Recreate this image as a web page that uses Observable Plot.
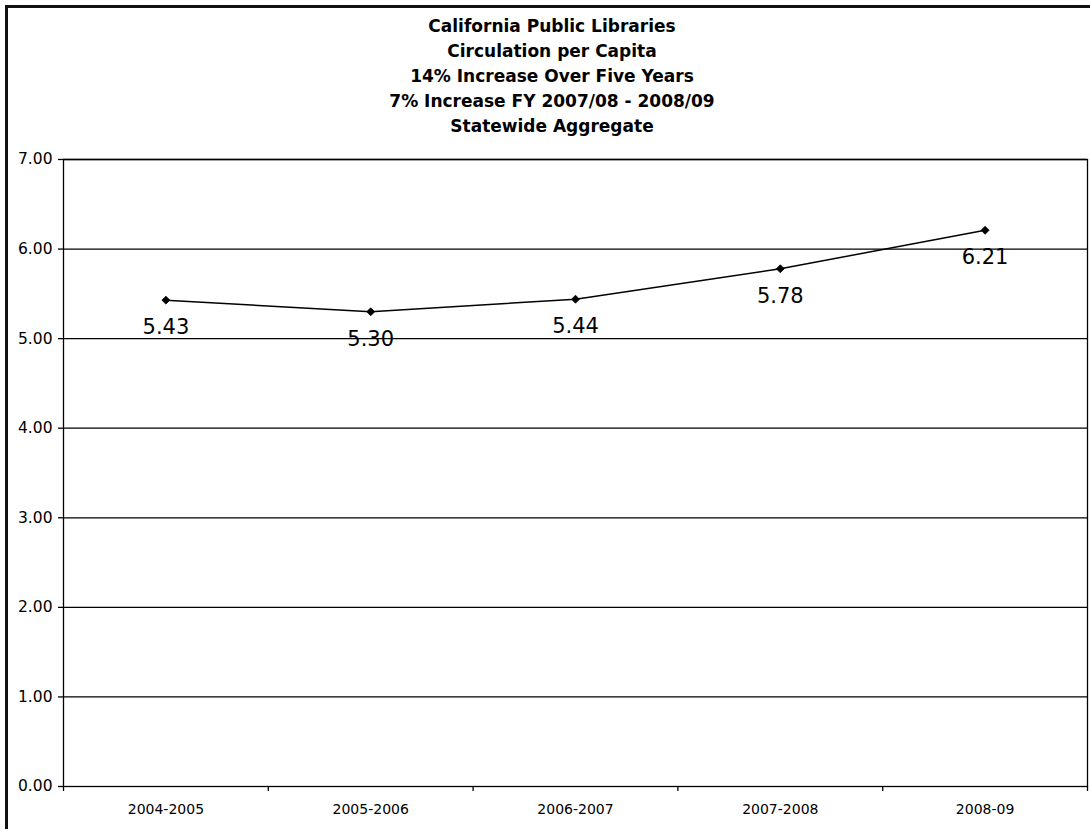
<!DOCTYPE html>
<html>
<head>
<meta charset="utf-8">
<script src="https://cdn.jsdelivr.net/npm/d3@7"></script>
<script src="https://cdn.jsdelivr.net/npm/@observablehq/plot@0.6"></script>
<style>
  html, body { margin: 0; padding: 0; background: #fff; }
  #wrap { position: relative; width: 1090px; height: 829px; overflow: hidden; background: #fff; }
  #border { position: absolute; left: 5px; top: 5px; width: 1200px; height: 1000px;
            border-left: 3px solid #111; border-top: 3px solid #111; box-sizing: border-box; }
  #title { position: relative; width: 1090px; height: 140px; box-sizing: border-box;
           padding-top: 14px; padding-left: 14px; text-align: center;
           font-family: "DejaVu Sans", sans-serif; font-weight: bold; font-size: 17px;
           line-height: 25px; color: #000; }
  #chart { position: relative; }
</style>
</head>
<body>
<div id="wrap">
  <div id="border"></div>
  <div id="title"></div>
  <div id="chart"></div>
</div>
<script>
const titleLines = [
  "California Public Libraries",
  "Circulation per Capita",
  "14% Increase Over Five Years",
  "7% Increase FY 2007/08 - 2008/09",
  "Statewide Aggregate"
];
const categories = ["2004-2005", "2005-2006", "2006-2007", "2007-2008", "2008-09"];
const values = [5.43, 5.30, 5.44, 5.78, 6.21];
const yTicks = [0, 1, 2, 3, 4, 5, 6, 7];

const titleEl = document.getElementById("title");
titleEl.innerHTML = titleLines.map(t => `<div>${t}</div>`).join("");

const data = categories.map((c, i) => ({cat: c, idx: i + 0.5, value: values[i]}));
const boundaries = d3.range(categories.length + 1);
const centers = categories.map((c, i) => i + 0.5);

const chart = Plot.plot({
  width: 1090,
  height: 689,
  marginLeft: 63,
  marginRight: 3,
  marginTop: 19,
  marginBottom: 43,
  style: {fontFamily: "DejaVu Sans, sans-serif", color: "#000", background: "transparent"},
  x: {type: "linear", domain: [0, categories.length]},
  y: {domain: [0, 7]},
  marks: [
    Plot.ruleY(yTicks.filter(d => d > 0), {stroke: "#000", strokeWidth: 1.3}),
    Plot.frame({stroke: "#000", strokeWidth: 1.3}),
    Plot.axisY({ticks: yTicks, tickFormat: d3.format(".2f"), tickSize: 5, tickPadding: 6,
                fontSize: 15.5, label: null, stroke: "#000", strokeWidth: 1.3}),
    Plot.axisX({ticks: boundaries, tickFormat: () => "", tickSize: 5, label: null,
                stroke: "#000", strokeWidth: 1.3}),
    Plot.axisX({ticks: centers, tickFormat: d => categories[Math.floor(d)], tickSize: 0,
                tickPadding: 18, fontSize: 14, label: null}),
    Plot.line(data, {x: "idx", y: "value", stroke: "#000", strokeWidth: 1.5}),
    Plot.dot(data, {x: "idx", y: "value", symbol: "diamond2", r: 3.6, fill: "#000", stroke: "#000", strokeWidth: 0.8}),
    Plot.text(data, {x: "idx", y: "value", text: d => d3.format(".2f")(d.value),
                     dy: 27, fontSize: 21, fill: "#000"})
  ]
});
document.getElementById("chart").appendChild(chart);
</script>
</body>
</html>
